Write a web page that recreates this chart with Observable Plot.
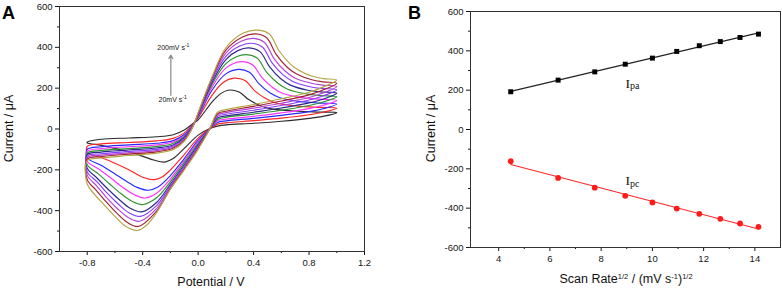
<!DOCTYPE html>
<html><head><meta charset="utf-8">
<script src="https://cdn.jsdelivr.net/npm/d3@7"></script>
<script src="https://cdn.jsdelivr.net/npm/@observablehq/plot@0.6"></script>
<style>
body{margin:0;background:#fff}
#wrap{display:flex;width:782px;height:290px;background:#fff}
#wrap svg{display:block}
</style>
</head><body><div id="wrap"></div>
<script>
// ---------- data ----------
const scanRates = [20, 40, 60, 80, 100, 120, 140, 160, 180, 200];
const sqrtScanRate = [4.47, 6.32, 7.75, 8.94, 10.0, 10.95, 11.83, 12.65, 13.42, 14.14];
const anodicPeakCurrent = [192, 251, 293, 332, 363, 397, 426, 447, 468, 485];
const cathodicPeakCurrent = [-161, -246, -296, -337, -371, -402, -429, -454, -478, -495];

// cyclic voltammograms: [potential V, current uA] around each closed loop
const cv20 = [[-0.8,-64],[-0.7,-50],[-0.5,-44],[-0.3,-38],[-0.18,-28],[-0.1,-5],[-0.035,28],[0.0,45],[0.1,132],[0.16,172],[0.215,190],[0.295,181],[0.365,144],[0.445,115],[0.515,100],[0.7,88],[0.88,83],[1.0,80],
  [0.9,62],[0.8,52],[0.6,38],[0.4,28],[0.2,20],[0.14,14],[0.085,2],[0.0,-30],[-0.1,-95],[-0.18,-145],[-0.24,-162],[-0.32,-152],[-0.45,-122],[-0.6,-95],[-0.7,-80],[-0.8,-68]];
const cv40 = [[-0.8,-85],[-0.7,-73],[-0.5,-66],[-0.3,-58],[-0.18,-46],[-0.1,-19],[-0.035,25],[0.0,54],[0.1,165],[0.18,228],[0.258,249],[0.338,237],[0.408,187],[0.488,149],[0.558,128],[0.72,112],[0.88,106],[1.0,102],
  [0.9,82],[0.8,70],[0.6,53],[0.4,41],[0.2,30],[0.14,24],[0.085,2],[0.0,-45],[-0.1,-125],[-0.2,-200],[-0.26,-235],[-0.316,-248],[-0.4,-236],[-0.5,-200],[-0.6,-168],[-0.7,-140],[-0.8,-116]];
const cv60 = [[-0.8,-100],[-0.7,-87],[-0.5,-78],[-0.3,-70],[-0.18,-57],[-0.1,-27],[-0.035,23],[0.0,59],[0.1,190],[0.2,270],[0.29,292],[0.37,278],[0.44,221],[0.52,176],[0.59,153],[0.74,134],[0.88,127],[1.0,122],
  [0.9,99],[0.8,85],[0.6,67],[0.4,52],[0.2,40],[0.14,32],[0.085,2],[0.0,-55],[-0.1,-145],[-0.2,-228],[-0.29,-284],[-0.36,-300],[-0.44,-286],[-0.52,-255],[-0.6,-220],[-0.7,-178],[-0.8,-141]];
const cv80 = [[-0.8,-110],[-0.7,-96],[-0.5,-87],[-0.3,-78],[-0.18,-64],[-0.1,-33],[-0.035,22],[0.0,63],[0.1,205],[0.2,298],[0.312,330],[0.392,315],[0.462,250],[0.542,201],[0.612,174],[0.76,153],[0.88,146],[1.0,140],
  [0.9,116],[0.8,100],[0.6,79],[0.4,62],[0.2,48],[0.14,40],[0.085,2],[0.0,-62],[-0.1,-155],[-0.2,-245],[-0.3,-315],[-0.383,-338],[-0.46,-322],[-0.55,-283],[-0.63,-240],[-0.72,-195],[-0.8,-158]];
const cv100 = [[-0.8,-118],[-0.7,-105],[-0.5,-96],[-0.3,-86],[-0.18,-71],[-0.1,-38],[-0.035,20],[0.0,66],[0.1,218],[0.2,320],[0.28,355],[0.345,364],[0.425,348],[0.495,277],[0.575,224],[0.645,195],[0.78,172],[0.88,164],[1.0,158],
  [0.9,132],[0.8,115],[0.6,92],[0.4,73],[0.2,57],[0.14,47],[0.085,2],[0.0,-70],[-0.1,-165],[-0.2,-258],[-0.3,-337],[-0.4,-370],[-0.48,-353],[-0.56,-315],[-0.64,-268],[-0.72,-220],[-0.8,-175]];
const cv120 = [[-0.8,-126],[-0.7,-113],[-0.5,-103],[-0.3,-93],[-0.18,-78],[-0.1,-43],[-0.035,19],[0.0,69],[0.1,228],[0.2,340],[0.29,385],[0.366,397],[0.446,379],[0.516,304],[0.596,246],[0.666,215],[0.79,190],[0.88,182],[1.0,175],
  [0.9,146],[0.8,128],[0.6,103],[0.4,82],[0.2,64],[0.14,54],[0.085,2],[0.0,-78],[-0.1,-175],[-0.2,-270],[-0.3,-360],[-0.407,-406],[-0.49,-388],[-0.57,-345],[-0.65,-295],[-0.73,-240],[-0.8,-192]];
const cv140 = [[-0.8,-133],[-0.7,-121],[-0.5,-110],[-0.3,-100],[-0.18,-83],[-0.1,-47],[-0.035,18],[0.0,72],[0.1,237],[0.2,356],[0.3,407],[0.383,420],[0.463,402],[0.533,324],[0.613,265],[0.683,233],[0.8,208],[0.88,199],[1.0,192],
  [0.9,162],[0.8,142],[0.6,115],[0.4,92],[0.2,72],[0.14,62],[0.085,2],[0.0,-84],[-0.1,-183],[-0.2,-278],[-0.3,-375],[-0.417,-428],[-0.5,-410],[-0.58,-365],[-0.66,-312],[-0.73,-258],[-0.8,-210]];
const cv160 = [[-0.8,-140],[-0.7,-128],[-0.5,-117],[-0.3,-106],[-0.18,-89],[-0.1,-52],[-0.035,17],[0.0,75],[0.1,245],[0.2,372],[0.31,430],[0.397,444],[0.477,425],[0.547,345],[0.627,284],[0.697,250],[0.81,225],[0.9,215],[1.0,208],
  [0.9,176],[0.8,154],[0.6,126],[0.4,102],[0.2,80],[0.14,68],[0.085,2],[0.0,-90],[-0.1,-190],[-0.2,-285],[-0.3,-390],[-0.424,-452],[-0.505,-433],[-0.585,-388],[-0.665,-332],[-0.735,-276],[-0.8,-226]];
const cv180 = [[-0.8,-147],[-0.7,-135],[-0.5,-123],[-0.3,-112],[-0.18,-94],[-0.1,-56],[-0.035,16],[0.0,77],[0.1,250],[0.2,386],[0.32,451],[0.414,466],[0.494,447],[0.564,364],[0.644,301],[0.714,268],[0.82,241],[0.9,231],[1.0,224],
  [0.9,191],[0.8,167],[0.6,137],[0.4,111],[0.2,87],[0.14,75],[0.085,2],[0.0,-95],[-0.1,-195],[-0.2,-292],[-0.3,-402],[-0.431,-477],[-0.51,-458],[-0.59,-410],[-0.67,-352],[-0.74,-297],[-0.8,-248]];
const cv200 = [[-0.8,-155],[-0.7,-142],[-0.5,-130],[-0.3,-118],[-0.18,-100],[-0.1,-60],[-0.035,15],[0.0,80],[0.1,255],[0.2,398],[0.33,471],[0.435,484],[0.515,464],[0.585,382],[0.665,318],[0.735,284],[0.83,257],[0.9,247],[1.0,240],
  [0.9,205],[0.8,180],[0.6,148],[0.4,120],[0.2,95],[0.14,82],[0.085,2],[0.0,-100],[-0.1,-200],[-0.2,-295],[-0.3,-410],[-0.37,-470],[-0.44,-497],[-0.52,-478],[-0.6,-428],[-0.68,-370],[-0.75,-318],[-0.8,-270]];

// tick values
const potentialTicks = [-0.8, -0.4, 0, 0.4, 0.8, 1.2];
const potentialMinorTicks = [-0.6, -0.2, 0.2, 0.6, 1.0];
const currentTicks = [-600, -400, -200, 0, 200, 400, 600];
const currentMinorTicks = [-500, -300, -100, 100, 300, 500];
const rateTicks = [4, 6, 8, 10, 12, 14];
const rateMinorTicks = [5, 7, 9, 11, 13];

// styles
const palette = ["#2b2b2b", "#ff2424", "#2828ff", "#ff30ff", "#2f922f", "#2a2a8c", "#8a3cff", "#b544d8", "#a02234", "#b3a544"];
const SANS = "'Liberation Sans', Arial, Helvetica, sans-serif";
const SERIF = "'Liberation Serif', 'Times New Roman', serif";

// ---------- tables ----------
const cvLoops = [cv20, cv40, cv60, cv80, cv100, cv120, cv140, cv160, cv180, cv200];
const cvTable = cvLoops.flatMap((loop, i) => loop.map(([V, I]) => ({V, I, rate: scanRates[i]})));
const peakTable = sqrtScanRate.map((s, i) => ({s, ipa: anodicPeakCurrent[i], ipc: cathodicPeakCurrent[i]}));

function richText(svg, x, y, parts, o = {}) {
  const size = o.size || 12, family = o.family || SANS;
  const t = d3.select(svg).append("text")
    .attr("text-anchor", o.anchor || "middle")
    .attr("font-size", size).attr("font-family", family)
    .attr("font-weight", o.weight || "normal")
    .attr("fill", o.fill || "#111");
  if (o.rotate) t.attr("transform", `translate(${x},${y}) rotate(-90)`);
  else t.attr("x", x).attr("y", y);
  let off = 0;
  for (const [str, shift, sz] of parts) {
    const s = t.append("tspan").text(str);
    const target = shift || 0;
    if (target !== off) s.attr("dy", target - off);
    if (sz) s.attr("font-size", sz);
    off = target;
  }
  return t;
}

const style = {fontFamily: SANS, fontSize: "9.5px", color: "#151515", background: "white", overflow: "visible"};

// ---------- panel A ----------
const A = Plot.plot({
  width: 391, height: 290,
  marginLeft: 59, marginRight: 27, marginTop: 6, marginBottom: 39,
  style,
  x: {domain: [-1.0, 1.2]},
  y: {domain: [-600, 600]},
  color: {type: "ordinal", domain: scanRates, range: palette},
  marks: [
    Plot.axisX(potentialTicks, {tickSize: 4, tickPadding: 4, tickFormat: d => d.toFixed(1), label: null}),
    Plot.axisX(potentialMinorTicks, {tickSize: 2, tickFormat: () => "", label: null}),
    Plot.axisY(currentTicks, {tickSize: 4, tickPadding: 3, tickFormat: d => String(d), label: null}),
    Plot.axisY(currentMinorTicks, {tickSize: 2, tickFormat: () => "", label: null}),
    Plot.line(cvTable, {x: "V", y: "I", z: "rate", stroke: "rate", strokeWidth: 1.15, curve: "catmull-rom-closed"}),
    Plot.arrow([0], {x1: -0.197, y1: 165, x2: -0.197, y2: 362, stroke: "#8a8a8a", strokeWidth: 1.2, headLength: 5}),
    Plot.frame({stroke: "#333", strokeWidth: 1})
  ]
});
document.getElementById("wrap").appendChild(A);
{
  const sx = A.scale("x"), sy = A.scale("y");
  richText(A, 2, 19, [["A"]], {size: 18, weight: "bold", anchor: "start", fill: "#000"});
  richText(A, 211, 286, [["Potential / V"]], {size: 12.5});
  richText(A, 12.5, 128.5, [["Current / μA"]], {size: 12.5, rotate: true});
  richText(A, sx.apply(-0.175), sy.apply(385), [["200mV s"], ["-1", -2.5, 5]], {size: 7});
  richText(A, sx.apply(-0.18), sy.apply(130), [["20mV s"], ["-1", -2.5, 5]], {size: 7});
}

// ---------- panel B ----------
const B = Plot.plot({
  width: 391, height: 290,
  marginLeft: 79, marginRight: 2, marginTop: 11, marginBottom: 43,
  style,
  x: {domain: [2.9, 15]},
  y: {domain: [-600, 600]},
  marks: [
    Plot.axisX(rateTicks, {tickSize: 4, tickPadding: 4, tickFormat: d => String(d), label: null}),
    Plot.axisX(rateMinorTicks, {tickSize: 2, tickFormat: () => "", label: null}),
    Plot.axisY(currentTicks, {tickSize: 4, tickPadding: 3, tickFormat: d => String(d), label: null}),
    Plot.axisY(currentMinorTicks, {tickSize: 2, tickFormat: () => "", label: null}),
    Plot.linearRegressionY(peakTable, {x: "s", y: "ipa", stroke: "#222", strokeWidth: 1.1, ci: 0}),
    Plot.linearRegressionY(peakTable, {x: "s", y: "ipc", stroke: "#ff2a2a", strokeWidth: 1.1, ci: 0}),
    Plot.dot(peakTable, {x: "s", y: "ipa", symbol: "square", fill: "#000", r: 2.8}),
    Plot.dot(peakTable, {x: "s", y: "ipc", symbol: "circle", fill: "#ff1a1a", r: 2.9}),
    Plot.frame({stroke: "#333", strokeWidth: 1})
  ]
});
document.getElementById("wrap").appendChild(B);
{
  const sx = B.scale("x"), sy = B.scale("y");
  richText(B, 17, 18.5, [["B"]], {size: 18, weight: "bold", anchor: "start", fill: "#000"});
  richText(B, 235, 283, [["Scan Rate"], ["1/2", -4.5, 7.5], [" / (mV s"], ["-1", -4.5, 7.5], [")"], ["1/2", -4.5, 7.5]], {size: 12.5});
  richText(B, 43.5, 128.5, [["Current / μA"]], {size: 12.5, rotate: true});
  richText(B, sx.apply(8.97), sy.apply(210), [["I"], ["pa", 1.5, 10]], {size: 13.5, family: SERIF, anchor: "start"});
  richText(B, sx.apply(8.97), sy.apply(-286), [["I"], ["pc", 1.5, 10]], {size: 13.5, family: SERIF, anchor: "start"});
}
</script>
</body></html>
